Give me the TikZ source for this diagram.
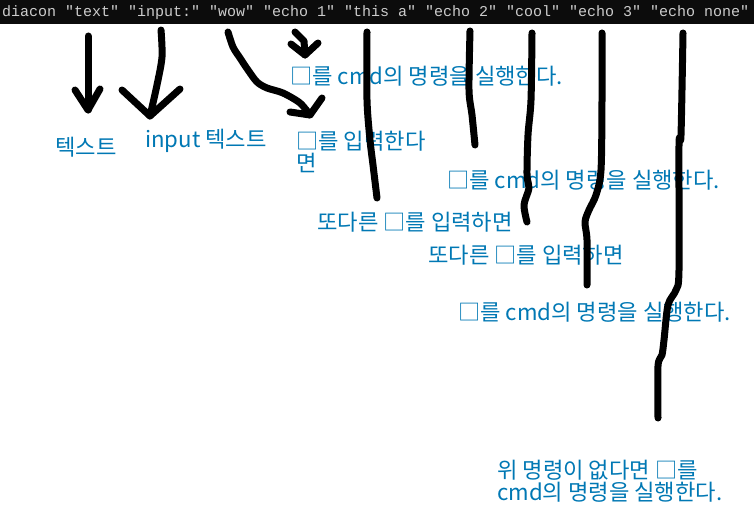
\documentclass[tikz,border=0pt]{standalone}
\usepackage{fontspec}
\setmonofont{Liberation Mono}
\newfontfamily\kofont{Noto Sans CJK KR}
\definecolor{inkblue}{RGB}{0,120,180}
\definecolor{termbg}{RGB}{12,12,12}
\definecolor{termfg}{RGB}{204,204,204}
\begin{document}
\begin{tikzpicture}[
        x=1pt, y=-1pt,
        stroke/.style={draw, line width=7pt, line cap=round, line join=round},
        note/.style={text=inkblue, font=\kofont\fontsize{22.2}{20}\selectfont, inner sep=0pt, anchor=base west, align=left},
        term/.style={text=termfg, font=\ttfamily\fontsize{15}{15}\selectfont, inner sep=0pt, anchor=base west},
    ]
    \fill[white] (0,0) rectangle (754,524);
    \useasboundingbox (0,0) rectangle (754,524);
    \fill[termbg] (0,0) rectangle (754,24);
    \node[term](cmdline) at (2,17) {diacon "text" "input:" "wow" "echo 1" "this a" "echo 2" "cool" "echo 3" "echo none"};

    % labels
    \node[note](txtText) at (55,155) {텍스트};
    \node[note](txtInput) at (145,147) {input 텍스트};
    \node[note](runA) at (290,85) {□를 cmd의 명령을 실행한다.};
    \node[note](askA) at (296,171) {□를 입력한다\\면};
    \node[note](runB) at (447,188) {□를 cmd의 명령을 실행한다.};
    \node[note](elseA) at (317,230) {또다른 □를 입력하면};
    \node[note](elseB) at (428,263) {또다른 □를 입력하면};
    \node[note](runC) at (458,320) {□를 cmd의 명령을 실행한다.};
    \node[note](fallback) at (497,500) {위 명령이 없다면 □를\\cmd의 명령을 실행한다.};

    % arrow tips
    \coordinate (tipText) at (88,110);
    \coordinate (tipInput) at (150,116);
    \coordinate (tipWow) at (310,115);
    \coordinate (tipEcho) at (305,55);

    \draw[stroke] (88,36) -- (tipText);
    \draw[stroke] (75,90) -- (tipText) -- (100,89);
    \draw[stroke] plot[smooth] coordinates {(161,30) (162,57) (157,85) (tipInput)};
    \draw[stroke] (122,90) -- (tipInput) -- (180,89);
    \draw[stroke] plot[smooth] coordinates {(228,32) (233,47) (240,58) (248,70) (257,82) (267,88) (283,93) (300,103) (tipWow)};
    \draw[stroke] (290,112) -- (tipWow) -- (322,98);
    \draw[stroke] (295,32) -- (304,41) -- (tipEcho);
    \draw[stroke] (291,44) -- (tipEcho) -- (318,43);

    % long strokes
    \draw[stroke] plot[smooth] coordinates {(367,32) (367,100) (370,140) (373,165) (377,198)};
    \draw[stroke] plot[smooth] coordinates {(470,31) (469,90) (472,115) (475,145)};
    \draw[stroke] plot[smooth] coordinates {(532,33) (531,100) (528,135) (527,175) (529,188) (524,205) (527,222)};
    \draw[stroke] plot[smooth] coordinates {(602,33) (602,100) (601,170) (596,195) (589,210) (585,222) (587,240) (587,285)};
    \draw[stroke] plot[smooth] coordinates {(683,33) (681,135) (679,145) (679,270) (676,290) (668,305) (664,340) (662,355) (658,366) (658,418)};
\end{tikzpicture}
\end{document}
